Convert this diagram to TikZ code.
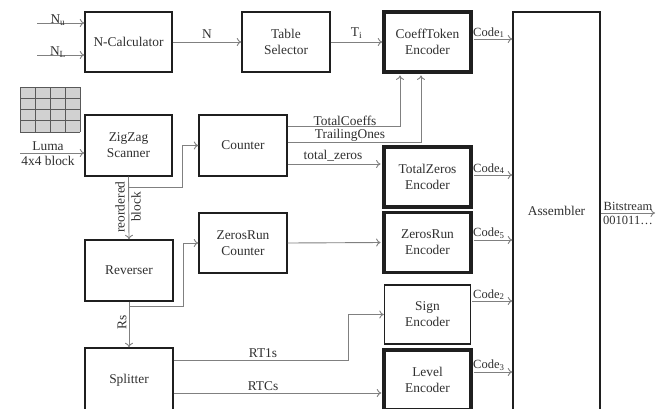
\documentclass[tikz,border=0pt]{standalone}
\usepackage{fontspec}
\setmainfont{Liberation Serif}
\usetikzlibrary{arrows.meta,calc}
\definecolor{arr}{HTML}{808080}
\definecolor{txt}{HTML}{303030}
\tikzset{
  box/.style={draw=black!88, line width=1.4pt, minimum width=87pt, minimum height=60pt,
    align=center, inner sep=0pt, text=txt},
  thickbox/.style={box, line width=3.4pt},
  conn/.style={draw=arr, line width=0.9pt, -{To[length=4.5pt,width=8pt]}},
  plain/.style={draw=arr, line width=0.9pt},
  lbl/.style={text=txt, inner sep=1pt}
}
\begin{document}
\begin{tikzpicture}[x=1pt,y=-1pt,font=\fontsize{13.4}{16}\selectfont]
\useasboundingbox (0,0) rectangle (668,408);
\clip (0,0) rectangle (668,408);
\fill[white] (0,0) rectangle (668,408);

% boxes
\node[box] (ncalc) at (128.5,42) {N-Calculator};
\node[box, minimum width=88pt] (tsel) at (286,42) {Table\\Selector};
\node[thickbox] (coeff) at (427.5,42) {CoeffToken\\Encoder};
\node[box, minimum height=398pt] (asm) at (556.5,211) {Assembler};
\node[box, minimum height=61pt] (zz) at (128.5,145.5) {ZigZag\\Scanner};
\node[box, minimum width=88pt, minimum height=61pt] (cnt) at (243,145.5) {Counter};
\node[thickbox] (tz) at (427.5,177) {TotalZeros\\Encoder};
\node[box, minimum width=88pt, minimum height=61pt] (rev) at (129,270.5) {Reverser};
\node[box, minimum width=88pt] (zrc) at (243,243) {ZerosRun\\Counter};
\node[thickbox] (zre) at (427.5,242.5) {ZerosRun\\Encoder};
\node[box, minimum width=86pt, minimum height=59pt] (sign) at (427.5,314.5) {Sign\\Encoder};
\node[thickbox] (lvl) at (427.5,380) {Level\\Encoder};
\node[box, minimum width=88pt, minimum height=64pt] (spl) at (129,380) {Splitter};

% grid
\fill[black!18] (20,87) rectangle (80,132);
\foreach \gx in {20,35,50,65,80}{\draw[black!65, line width=0.9pt] (\gx,87) -- (\gx,132);}
\foreach \gy in {87,98.25,109.5,120.75,132}{\draw[black!65, line width=0.9pt] (20,\gy) -- (80,\gy);}

% inputs
\coordinate (nu) at (37,23);
\coordinate (nl) at (37,55);
\draw[conn] (nu) -- (ncalc.west |- nu);
\draw[conn] (nl) -- (ncalc.west |- nl);
\node[lbl, anchor=south] at (58,27) {N\textsubscript{u}};
\node[lbl, anchor=south] at (58,59) {N\textsubscript{L}};

\draw[conn] (ncalc.east) -- node[lbl, above=2pt] {N} (tsel.west);
\draw[conn] (tsel.east) -- node[lbl, above=2pt] {T\textsubscript{i}} (coeff.west);

\coordinate (luma) at (20,153);
\draw[conn] (luma) -- (zz.west |- luma);
\node[lbl, anchor=south] at (48,152) {Luma};
\node[lbl, anchor=north] at (48,155) {4x4 block};

% zigzag outputs
\coordinate (br1) at (129,187);
\coordinate (up1) at (182,145.5);
\draw[conn] (zz.south) -- (rev.north);
\draw[conn] (br1) -| (up1) -- (cnt.west);
\node[lbl, rotate=90] at (120,207) {reordered};
\node[lbl, rotate=90] at (136,207) {block};

% counter outputs
\coordinate (tc) at (400,126);
\coordinate (to) at (421,142);
\coordinate (tzz) at (383,164);
\draw[conn] (cnt.east |- tc) -- (tc) -- ([yshift=-1.7pt]coeff.south -| tc);
\draw[conn] (cnt.east |- to) -- (to) -- ([yshift=-1.7pt]coeff.south -| to);
\draw[conn] (cnt.east |- tzz) -- ([xshift=-1.7pt]tz.west |- tzz);
\node[lbl, anchor=south] at (345,127) {TotalCoeffs};
\node[lbl, anchor=south] at (350,143) {TrailingOnes};
\node[lbl, anchor=south] at (333,162) {total\_zeros};

% reverser outputs
\coordinate (br2) at (129,306);
\coordinate (up2) at (183,243);
\draw[conn] (br2) -| (up2) -- (zrc.west);
\draw[conn] (zrc.east) -- ([xshift=-1.7pt]zre.west);
\draw[conn] (rev.south) -- (spl.north);
\node[lbl, rotate=90] at (122,322) {Rs};

% splitter outputs
\coordinate (rt1) at (348,360);
\coordinate (rt1b) at (348,314.5);
\coordinate (rtc) at (383,393);
\draw[conn] (spl.east |- rt1) -- (rt1) -- (rt1b) -- (sign.west);
\draw[conn] (spl.east |- rtc) -- ([xshift=-1.7pt]rtc);
\node[lbl, anchor=south] at (263,359) {RT1s};
\node[lbl, anchor=south] at (263,392) {RTCs};

% code outputs
\foreach \src/\yy/\k in {coeff/39/1, tz/175/4, zre/240/5, sign/301/2, lvl/372/3}{
  \draw[conn] ([xshift=1pt]\src.east |- 0,\yy) -- (asm.west |- 0,\yy);
  \node[lbl, anchor=south west, font=\fontsize{12.5}{14}\selectfont] at (472,\yy) {Code\textsubscript{\k}};
}

% bitstream
\coordinate (bs) at (655,213);
\draw[conn] (asm.east |- bs) -- (bs);
\node[lbl, anchor=south, font=\fontsize{12.5}{14}\selectfont] at (628,212) {Bitstream};
\node[lbl, anchor=north, font=\fontsize{12.5}{14}\selectfont] at (628,215) {001011…};
\end{tikzpicture}
\end{document}
